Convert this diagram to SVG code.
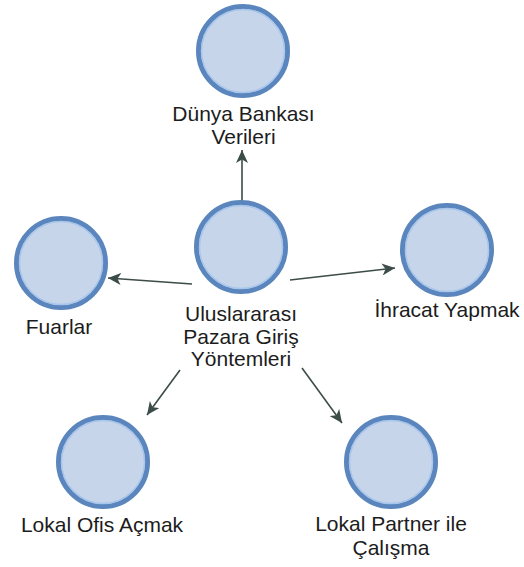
<svg xmlns="http://www.w3.org/2000/svg" width="524" height="567" viewBox="0 0 524 567">
<style>
.ring{fill:#c6d5ea;stroke:#5b86bd;stroke-width:5}
.inner{fill:none;stroke:#a8c6ec;stroke-width:1.5}
.lbl{font-family:"Liberation Sans",Arial,sans-serif;font-size:21px;fill:#1c1c1c;text-anchor:middle}
.conn{stroke:#3c4c49;stroke-width:1.6;fill:none;marker-end:url(#ah)}
</style>
<defs>
<marker id="ah" markerUnits="userSpaceOnUse" markerWidth="14" markerHeight="12" refX="13" refY="6" orient="auto" viewBox="0 0 14 12">
<path d="M0,0 L13,6 L0,12 L3.5,6 z" fill="#3c4c49"/>
</marker>
</defs>
<rect width="524" height="567" fill="#ffffff"/>
<g id="connectors">
<line class="conn" x1="242" y1="202" x2="242" y2="150"/>
<line class="conn" x1="192" y1="284" x2="108" y2="278"/>
<line class="conn" x1="290" y1="280" x2="395" y2="268"/>
<line class="conn" x1="180" y1="370" x2="147" y2="415"/>
<line class="conn" x1="302" y1="368" x2="342" y2="423"/>
</g>
<g id="center">
<circle class="ring" cx="241" cy="247" r="44.5"/>
<circle class="inner" cx="241" cy="247" r="41.5"/>
<text class="lbl" x="241" y="321">Uluslararası</text>
<text class="lbl" x="241" y="344">Pazara Giriş</text>
<text class="lbl" x="241" y="366">Yöntemleri</text>
</g>
<g id="dunya">
<circle class="ring" cx="243" cy="51" r="44.5"/>
<circle class="inner" cx="243" cy="51" r="41.5"/>
<text class="lbl" x="243.5" y="121">Dünya Bankası</text>
<text class="lbl" x="243.5" y="144">Verileri</text>
</g>
<g id="fuarlar">
<circle class="ring" cx="61" cy="263" r="44.5"/>
<circle class="inner" cx="61" cy="263" r="41.5"/>
<text class="lbl" x="59" y="334">Fuarlar</text>
</g>
<g id="ihracat">
<circle class="ring" cx="447" cy="250" r="44.5"/>
<circle class="inner" cx="447" cy="250" r="41.5"/>
<text class="lbl" x="447" y="317">İhracat Yapmak</text>
</g>
<g id="ofis">
<circle class="ring" cx="103" cy="462" r="44.5"/>
<circle class="inner" cx="103" cy="462" r="41.5"/>
<text class="lbl" x="102" y="532">Lokal Ofis Açmak</text>
</g>
<g id="partner">
<circle class="ring" cx="391" cy="462" r="44.5"/>
<circle class="inner" cx="391" cy="462" r="41.5"/>
<text class="lbl" x="391" y="531">Lokal Partner ile</text>
<text class="lbl" x="391" y="555">Çalışma</text>
</g>
</svg>
